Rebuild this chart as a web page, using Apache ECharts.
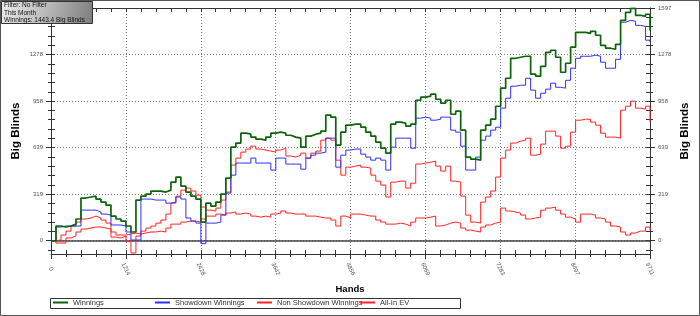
<!DOCTYPE html>
<html><head><meta charset="utf-8">
<script src="https://cdn.jsdelivr.net/npm/echarts@6/dist/echarts.min.js"></script>
<style>html,body{margin:0;padding:0;background:#fff}#c{width:700px;height:316px}</style>
</head><body><div id="c"></div>
<script>
// ---- data ----
const hands = [0,81,162,243,324,405,486,567,648,729,
810,891,972,1053,1134,1215,1296,1377,1458,1539,
1620,1701,1782,1863,1944,2025,2106,2187,2268,2349,
2430,2511,2592,2673,2754,2835,2916,2997,3078,3159,
3240,3321,3402,3483,3564,3645,3726,3807,3888,3969,
4050,4131,4212,4293,4374,4455,4536,4617,4698,4779,
4860,4941,5022,5103,5184,5265,5346,5427,5508,5589,
5670,5751,5832,5913,5994,6075,6156,6237,6318,6399,
6480,6561,6642,6723,6804,6885,6966,7047,7128,7209,
7290,7371,7452,7533,7614,7695,7776,7857,7938,8019,
8100,8181,8262,8343,8424,8505,8586,8667,8748,8829,
8910,8991,9072,9153,9234,9315,9396,9477,9558,9639,
9711];
const winnings = [0,101,94,101,114,149,293,300,306,286,
265,245,169,149,135,101,60,279,306,320,
341,341,334,347,402,437,375,334,306,286,
128,258,238,265,320,430,642,670,738,731,
711,697,690,711,738,745,738,724,711,704,
642,718,731,738,752,862,848,656,745,793,
800,800,779,745,718,677,635,601,800,814,
807,786,800,964,985,992,1006,971,944,964,
868,889,759,574,560,553,759,793,834,923,
1047,1115,1252,1259,1266,1266,1143,1129,1197,1293,
1307,1259,1156,1218,1328,1430,1430,1423,1437,1410,
1341,1321,1314,1348,1512,1567,1595,1547,1540,1554,
1443];
const showdown = [0,94,101,101,101,101,210,210,210,197,
183,176,108,108,101,60,5,5,286,286,
279,279,279,258,265,300,286,156,135,121,
-20,121,121,128,176,327,450,533,533,533,
567,533,533,533,485,567,567,526,526,526,
491,567,587,601,608,704,704,505,587,622,
629,629,594,574,553,567,553,485,642,704,
704,704,635,841,848,841,827,834,848,848,
759,745,649,485,485,574,690,718,759,779,
910,978,1060,1067,1067,1115,1033,978,1012,1040,
1081,1053,1047,1101,1184,1252,1266,1266,1273,1266,
1225,1184,1184,1245,1499,1512,1506,1478,1471,1376,
1362];
const nonShowdown = [0,-16,-16,19,32,60,80,87,94,94,
87,80,60,39,39,46,53,46,53,60,
60,66,60,87,114,114,128,135,135,128,
149,169,169,183,176,190,197,183,190,183,
169,162,169,162,183,190,204,190,183,183,
183,169,169,162,156,156,142,101,169,156,
183,183,176,169,169,142,128,114,114,121,
114,101,128,156,156,162,169,101,108,121,
128,121,87,73,66,60,94,108,121,128,
224,204,197,190,176,149,156,162,210,224,
231,210,183,162,149,128,183,183,176,156,
149,128,101,94,60,39,53,66,66,94,
73];
const allInEV = [0,5,39,66,101,128,149,156,169,156,
142,121,25,19,32,-2,-84,32,66,87,
101,121,142,183,258,306,347,361,341,313,
231,210,204,224,279,334,519,567,608,629,
649,629,622,615,608,622,635,581,574,587,
601,567,601,615,690,704,690,553,450,505,
512,519,505,498,450,409,382,300,402,409,
409,361,395,526,533,539,546,512,478,512,
409,402,306,176,128,121,265,300,341,437,
567,622,670,683,690,704,587,594,663,752,
752,718,635,649,745,827,834,834,814,793,
738,711,711,704,896,923,958,910,903,923,
814];
const seriesNames = ['Winnings','Showdown Winnings','Non Showdown Winnings','All-In EV'];
const yTickValues = [0,319.4,638.8,958.2,1277.6,1597];
const yTickLabels = ['0','319','639','958','1278','1597'];
const xTickValues = [0,1213.875,2427.75,3641.625,4855.5,6069.375,7283.25,8497.125,9711];
const xTickLabels = ['0','1214','2428','3642','4856','6069','7283','8497','9711'];
const infoLines = ['Filter: No Filter','This Month','Winnings: 1443.4 Big Blinds'];
const Y_MIN = -91, Y_MAX = 1597, X_MIN = 0, X_MAX = 9711;

// ---- helpers ----
function minorTicks(majors, n, lo, hi) {
  const step = (majors[1] - majors[0]) / n;
  const out = [];
  let v = majors[0] - step * Math.floor((majors[0] - lo) / step);
  for (; v <= hi + 1e-6; v += step) {
    if (!majors.some(m => Math.abs(m - v) < 1e-3)) out.push(+v.toFixed(3));
  }
  return out;
}
function labelFor(vals, labels) {
  return v => { let b = 0; for (let k = 1; k < vals.length; k++) if (Math.abs(vals[k]-v) < Math.abs(vals[b]-v)) b = k; return labels[b]; };
}
const yMinor = minorTicks(yTickValues, 5, Y_MIN, Y_MAX);
const xMinor = minorTicks(xTickValues, 5, X_MIN, X_MAX);
const yAll = yTickValues.concat(yMinor);
const xAll = xTickValues.concat(xMinor);

const FONT = 'Liberation Sans';
const axCol = '#333';
const lineStyle = { color: axCol, width: 1 };
const gridStyle = { color: '#7a7a7a', width: 1, type: [1, 2] };
const lblStyle = { fontSize: 6, color: '#555', fontFamily: FONT };

function xAx(pos, o) {
  return {
    type: 'value', min: X_MIN, max: X_MAX, position: pos,
    axisLine: { show: !!o.line, onZero: false, lineStyle },
    axisTick: { show: true, inside: !!o.inside, length: o.len, customValues: o.ticks, lineStyle },
    axisLabel: o.labels ? Object.assign({ show: true, customValues: xTickValues, formatter: labelFor(xTickValues, xTickLabels),
      rotate: -65, align: 'center', verticalAlign: 'middle', margin: 15 }, lblStyle) : { show: false },
    splitLine: o.split ? { show: true, lineStyle: gridStyle } : { show: false }
  };
}
function yAx(pos, o) {
  return {
    type: 'value', min: Y_MIN, max: Y_MAX, position: pos,
    axisLine: { show: !!o.line, onZero: false, lineStyle },
    axisTick: { show: true, inside: !!o.inside, length: o.len, customValues: o.ticks, lineStyle },
    axisLabel: o.labels ? Object.assign({ show: true, customValues: yTickValues, formatter: labelFor(yTickValues, yTickLabels), margin: 8 }, lblStyle) : { show: false },
    splitLine: o.split ? { show: true, lineStyle: gridStyle } : { show: false }
  };
}

const colors = { 'Winnings': '#0b640b', 'Showdown Winnings': '#2e2eff', 'Non Showdown Winnings': '#ff2222', 'All-In EV': '#ff2222' };
const widths = { 'Winnings': 1.7, 'Showdown Winnings': 1, 'Non Showdown Winnings': 1, 'All-In EV': 1 };
const dataMap = { 'Winnings': winnings, 'Showdown Winnings': showdown, 'Non Showdown Winnings': nonShowdown, 'All-In EV': allInEV };
const drawOrder = ['All-In EV', 'Non Showdown Winnings', 'Showdown Winnings', 'Winnings'];

const series = drawOrder.map((name, k) => {
  const s = {
    name, type: 'line', step: 'end', xAxisIndex: 0, yAxisIndex: 0,
    symbol: 'none', showSymbol: false, silent: true, z: 3 + k,
    color: colors[name],
    lineStyle: { color: colors[name], width: widths[name] },
    data: hands.map((h, i) => [h, dataMap[name][i]])
  };
  if (k === 0) {
    s.markLine = { silent: true, symbol: 'none', z: 2, label: { show: false },
      lineStyle: { color: '#444', width: 1.5, type: 'solid' }, data: [{ yAxis: 0 }] };
  }
  return s;
});

const legendLeft = [53, 155, 257, 360];
const legends = seriesNames.map((n, k) => ({
  data: [n], left: legendLeft[k], top: 298.5, padding: 0, itemWidth: 15, itemHeight: 2, icon: 'rect',
  selectedMode: false, z: 10, textStyle: { fontSize: 7.5, color: '#333', fontFamily: FONT }
}));

const chart = echarts.init(document.getElementById('c'), null, { renderer: 'canvas' });
chart.setOption({
  animation: false,
  backgroundColor: '#fff',
  grid: { left: 51, right: 50, top: 8, bottom: 62, containLabel: false, outerBoundsMode: 'none' },
  xAxis: [
    xAx('bottom', { line: true, len: 5, ticks: xTickValues, labels: true, split: true }),
    xAx('bottom', { inside: true, len: 4, ticks: xAll }),
    xAx('bottom', { len: 3, ticks: xMinor }),
    xAx('top', { line: true, inside: true, len: 4, ticks: xAll })
  ],
  yAxis: [
    yAx('left', { line: true, len: 5, ticks: yTickValues, labels: true, split: true }),
    yAx('left', { inside: true, len: 4, ticks: yAll }),
    yAx('left', { len: 3, ticks: yMinor }),
    yAx('right', { line: true, len: 5, ticks: yTickValues, labels: true }),
    yAx('right', { inside: true, len: 4, ticks: yAll }),
    yAx('right', { len: 3, ticks: yMinor })
  ],
  legend: legends,
  series,
  graphic: [
    { type: 'rect', z: 0, silent: true, shape: { x: 0.5, y: 0.5, width: 699, height: 315 },
      style: { fill: 'none', stroke: '#555', lineWidth: 1 } },
    { type: 'rect', z: 1, silent: true, shape: { x: 50.5, y: 298.5, width: 410, height: 10 },
      style: { fill: '#fff', stroke: '#333', lineWidth: 1 } },
    { type: 'rect', z: 20, silent: true, shape: { x: 1.5, y: 1.5, width: 91, height: 22 },
      style: { fill: new echarts.graphic.LinearGradient(0, 0, 1, 1, [
        { offset: 0, color: '#ececec' }, { offset: 0.5, color: '#b8b8b8' }, { offset: 1, color: '#7c7c7c' }]),
        stroke: '#333', lineWidth: 1 } },
    ...infoLines.map((t, k) => ({ type: 'text', z: 21, silent: true, x: 4, y: 5.5 + k * 7.3,
      style: { text: t, fontSize: 6.5, fontFamily: FONT, fill: '#111', align: 'left', verticalAlign: 'middle' } })),
    { type: 'text', z: 21, silent: true, x: 16, y: 131, rotation: Math.PI / 2,
      style: { text: 'Big Blinds', fontSize: 11.5, fontWeight: 'bold', fontFamily: FONT, fill: '#000', align: 'center', verticalAlign: 'middle' } },
    { type: 'text', z: 21, silent: true, x: 685, y: 131, rotation: Math.PI / 2,
      style: { text: 'Big Blinds', fontSize: 11.5, fontWeight: 'bold', fontFamily: FONT, fill: '#000', align: 'center', verticalAlign: 'middle' } },
    { type: 'text', z: 21, silent: true, x: 350, y: 289,
      style: { text: 'Hands', fontSize: 9.5, fontWeight: 'bold', fontFamily: FONT, fill: '#000', align: 'center', verticalAlign: 'middle' } }
  ]
});
</script>
</body></html>
